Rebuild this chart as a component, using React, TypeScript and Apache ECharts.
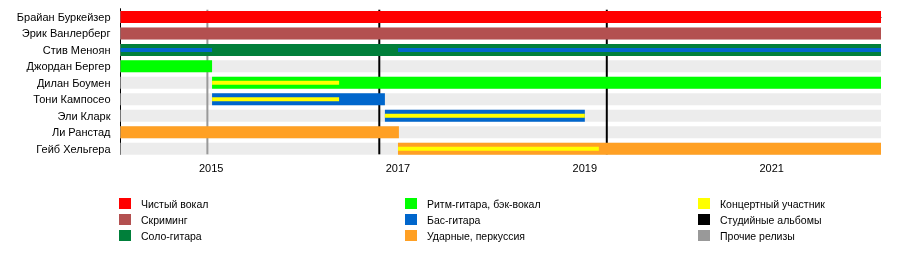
import React, { useEffect, useRef } from "react";
import * as echarts from "echarts";

const members = [
  "Брайан Буркейзер",
  "Эрик Ванлерберг",
  "Стив Меноян",
  "Джордан Бергер",
  "Дилан Боумен",
  "Тони Кампосео",
  "Эли Кларк",
  "Ли Ранстад",
  "Гейб Хельгера",
];

const START = 2014.03;
const END = 2022.17;

// [start, end, memberIndex]
const cleanVocals = [[START, END, 0]];
const screams = [[START, END, 1]];
const leadGuitar = [[START, END, 2]];
const rhythmGuitar = [
  [START, 2015.01, 3],
  [2015.01, END, 4],
];
const bassFull = [
  [2015.01, 2016.86, 5],
  [2016.86, 2019.0, 6],
];
const bassStripe = [
  [START, 2015.01, 2],
  [2017.0, END, 2],
];
const drums = [
  [START, 2017.01, 7],
  [2017.0, END, 8],
];
const touring = [
  [2015.01, 2016.37, 4],
  [2015.01, 2016.37, 5],
  [2016.86, 2019.0, 6],
  [2017.0, 2019.15, 8],
];
const studioAlbums = [2016.8, 2019.235];
const otherReleases = [2014.96];

const tickYears = [2015, 2016, 2017, 2018, 2019, 2020, 2021, 2022];
const labelYears = [2015, 2017, 2019, 2021];

const FONT = "'Liberation Sans', Arial, sans-serif";

function barSeries(name: string, data: number[][], color: string, h: number, z: number) {
  return {
    type: "custom",
    name,
    z,
    itemStyle: { color },
    encode: { x: [0, 1], y: 2 },
    data,
    renderItem: (params: any, api: any) => {
      const p0 = api.coord([api.value(0), api.value(2)]);
      const p1 = api.coord([api.value(1), api.value(2)]);
      return {
        type: "rect",
        shape: { x: p0[0], y: p0[1] - h / 2, width: p1[0] - p0[0], height: h },
        style: { fill: color },
      };
    },
  };
}

function lineSeries(name: string, years: number[], color: string, z: number) {
  return {
    type: "custom",
    name,
    z,
    itemStyle: { color },
    encode: { x: 0 },
    data: years.map((y) => [y]),
    renderItem: (params: any, api: any) => {
      const x = api.coord([api.value(0), 0])[0];
      const cs = params.coordSys;
      return {
        type: "rect",
        shape: { x: x - 1, y: cs.y + 1, width: 2, height: cs.height - 1 },
        style: { fill: color },
      };
    },
  };
}

const legendBase = {
  orient: "vertical",
  icon: "rect",
  itemWidth: 12,
  itemHeight: 11,
  itemGap: 5,
  top: 193,
  selectedMode: false,
  textStyle: { fontSize: 10.5, color: "#000", fontFamily: FONT, padding: [0, 0, 0, 5] },
};

export default function App() {
  const ref = useRef<HTMLDivElement>(null);
  useEffect(() => {
    if (!ref.current) return;
    const chart = echarts.init(ref.current, null, { renderer: "svg" });
    const bgData = members.map((_, i) => [START, END, i]);
    chart.setOption({
      animation: false,
      grid: { left: 120.5, right: 19, top: 8.7, bottom: 254 - 154.3, containLabel: false },
      xAxis: {
        type: "value",
        min: START,
        max: END,
        axisLine: { show: true, lineStyle: { color: "#000", width: 1 } },
        axisTick: { show: true, customValues: tickYears, length: 5, lineStyle: { color: "#000" } },
        axisLabel: {
          customValues: labelYears,
          formatter: (v: number) => String(Math.round(v)),
          fontSize: 11,
          color: "#000",
          fontFamily: FONT,
          margin: 8,
        },
        splitLine: { show: false },
      },
      yAxis: {
        type: "value",
        inverse: true,
        min: -0.5,
        max: 8.34,
        axisLine: { show: true, lineStyle: { color: "#000", width: 1 } },
        axisTick: { show: false },
        splitLine: { show: false },
        axisLabel: {
          customValues: members.map((_, i) => i),
          formatter: (v: number) => members[Math.round(v)] ?? "",
          fontSize: 11,
          color: "#000",
          fontFamily: FONT,
          margin: 10,
        },
      },
      legend: [
        { ...legendBase, left: 114, data: ["Чистый вокал", "Скриминг", "Соло-гитара"] },
        { ...legendBase, left: 400, data: ["Ритм-гитара, бэк-вокал", "Бас-гитара", "Ударные, перкуссия"] },
        { ...legendBase, left: 693, data: ["Концертный участник", "Студийные альбомы", "Прочие релизы"] },
      ],
      series: [
        barSeries("bg", bgData, "#ececec", 12, 1),
        lineSeries("Прочие релизы", otherReleases, "#999999", 2),
        lineSeries("Студийные альбомы", studioAlbums, "#000000", 2),
        barSeries("Чистый вокал", cleanVocals, "#ff0000", 12, 5),
        barSeries("Скриминг", screams, "#b35050", 12, 5),
        barSeries("Соло-гитара", leadGuitar, "#007f3a", 12, 5),
        barSeries("Ритм-гитара, бэк-вокал", rhythmGuitar, "#00ff00", 12, 5),
        barSeries("Бас-гитара", bassFull, "#0066cc", 12, 5),
        barSeries("Ударные, перкуссия", drums, "#ffa024", 12, 5),
        barSeries("Бас-гитара", bassStripe, "#0066cc", 4, 6),
        barSeries("Концертный участник", touring, "#ffff00", 4, 6),
      ],
    });
    return () => chart.dispose();
  }, []);
  return (
    <div
      ref={ref}
      style={{ position: "fixed", left: 0, top: 0, width: 900, height: 254 }}
    />
  );
}
